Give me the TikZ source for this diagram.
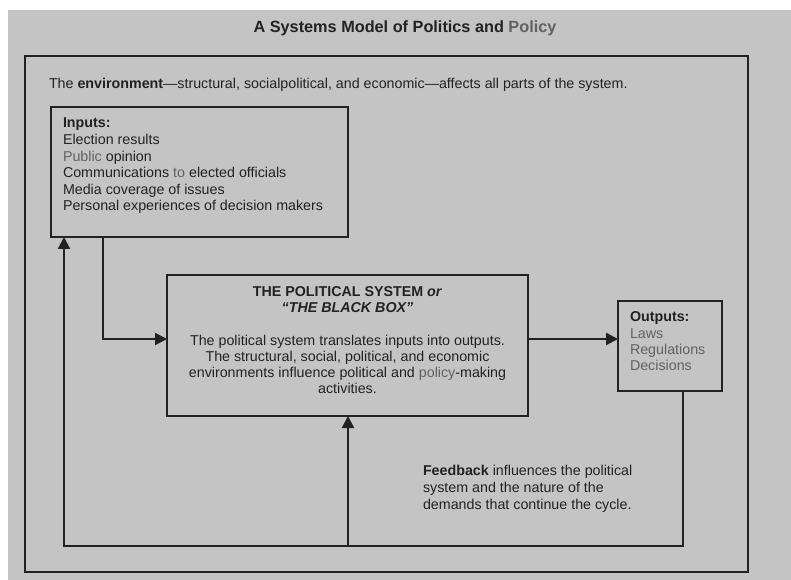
\documentclass[tikz,border=0pt]{standalone}
\usepackage{fontspec}
\setmainfont{Liberation Sans}
\usetikzlibrary{arrows.meta}
\definecolor{bgc}{HTML}{C4C4C4}
\definecolor{ink}{HTML}{222222}
\definecolor{soft}{HTML}{626262}
\def\pxu{0.75pt}
\begin{document}
\begin{tikzpicture}[x=0.75pt,y=-0.75pt,
  frame/.style={draw=ink,line width=1.7pt,rectangle,inner sep=0pt,anchor=north west},
  conn/.style={draw=ink,line width=1.7pt},
  arr/.style={conn,-{Triangle[length=9pt,width=9pt]}},
  txt/.style={inner sep=0pt,text=ink,font=\fontsize{10.7}{12.5}\selectfont},
  every node/.append style={outer sep=0pt}]
\useasboundingbox (0,0) rectangle (791,580);
\fill[white] (0,0) rectangle (791,580);
\fill[bgc] (8,10) rectangle (791,580);
% title
\node[txt,font=\bfseries\fontsize{12.2}{14}\selectfont] (title) at (405,28) {A Systems Model of Politics and \textcolor{soft}{Policy}};
% frames
\node[frame,minimum width=723*\pxu,minimum height=516*\pxu] (env) at (25,56) {};
\node[frame,minimum width=297*\pxu,minimum height=130*\pxu] (in) at (51,107) {};
\node[frame,minimum width=361*\pxu,minimum height=141*\pxu] (sys) at (167,275) {};
\node[frame,minimum width=104*\pxu,minimum height=90*\pxu] (out) at (618,301) {};
% texts
\node[txt,anchor=base west] (envt) at (49,89) {The \textbf{environment}---structural, socialpolitical, and economic---affects all parts of the system.};
\node[txt,anchor=north west,align=left,font=\fontsize{10.7}{12.45}\selectfont] (int) at (63,118) {\textbf{Inputs:}\\Election results\\\textcolor{soft}{Public} opinion\\Communications \textcolor{soft}{to} elected officials\\Media coverage of issues\\Personal experiences of decision makers};
\node[txt,anchor=north,align=center,font=\bfseries\fontsize{10.7}{12}\selectfont] (syst) at (347.5,287) {THE POLITICAL SYSTEM \textit{or}\\\textit{``THE BLACK BOX''}};
\node[txt,anchor=north,align=center,font=\fontsize{10.7}{12}\selectfont] (sysb) at (347.5,335) {The political system translates inputs into outputs.\\The structural, social, political, and economic\\environments influence political and \textcolor{soft}{policy}-making\\activities.};
\node[txt,anchor=north west,align=left,font=\fontsize{10.7}{12.2}\selectfont] (outt) at (630,312) {\textbf{Outputs:}\\\textcolor{soft}{Laws}\\\textcolor{soft}{Regulations}\\\textcolor{soft}{Decisions}};
\node[txt,anchor=north west,align=left,font=\fontsize{10.7}{12.75}\selectfont] (fbt) at (423,465) {\textbf{Feedback} influences the political\\system and the nature of the\\demands that continue the cycle.};
% connectors
\coordinate (a1) at (103,339);
\coordinate (fbR) at (683,546);
\coordinate (fbL) at (64,546);
\coordinate (fbM) at (348,546);
\draw[arr] (in.south -| a1) -- (a1) -- (a1 -| sys.west);
\draw[arr] (sys.east |- a1) -- (out.west |- a1);
\draw[arr] (out.south -| fbR) -- (fbR) -- (fbL) -- (fbL |- in.south);
\draw[arr] (fbM) -- (fbM |- sys.south);
\end{tikzpicture}
\end{document}
